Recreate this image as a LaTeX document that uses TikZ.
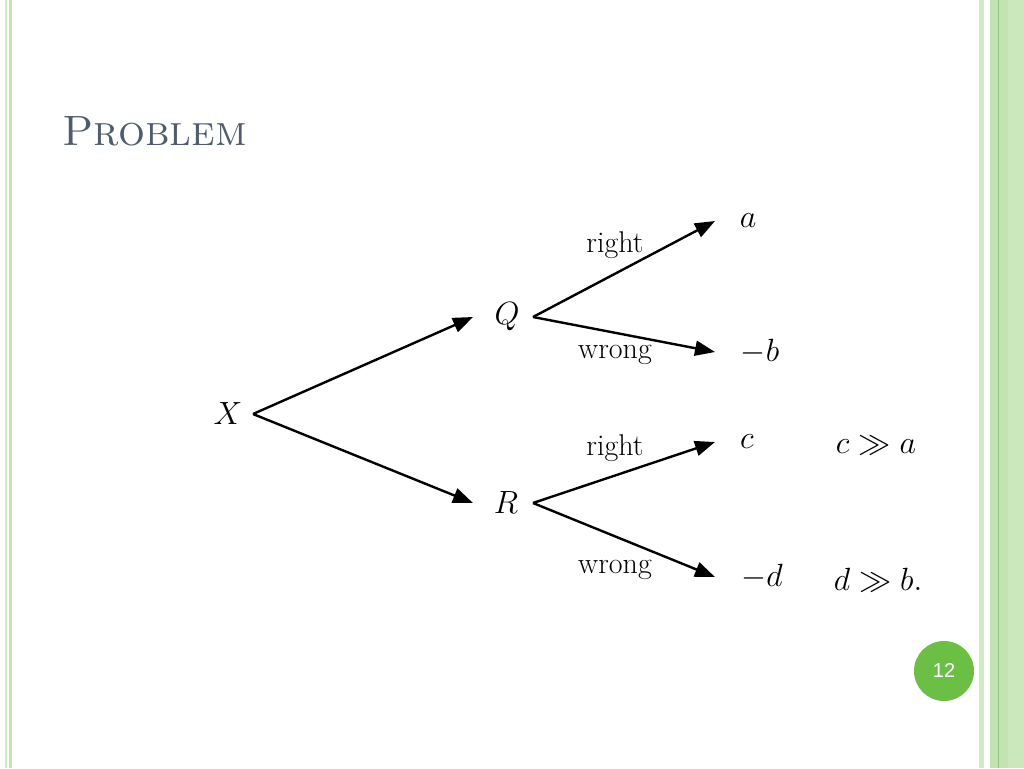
\documentclass[tikz,border=0pt]{standalone}
\usepackage{graphicx}
\usepackage{fontspec}
\usetikzlibrary{arrows.meta}
\newfontfamily\numfont{Liberation Sans}
\newcommand\mth[1]{\scalebox{1.55}{\fontsize{20}{24}\selectfont$#1$}}
\definecolor{stripeA}{HTML}{CFEBC3}
\definecolor{stripeB}{HTML}{C3E3B2}
\definecolor{stripeC}{HTML}{CBE8BD}
\definecolor{stripeLine}{HTML}{93C47D}
\definecolor{titlecol}{HTML}{4F5B6E}
\definecolor{badge}{HTML}{6CBF45}
\tikzset{
  mnode/.style={inner sep=0pt},
  lbl/.style={inner sep=0pt, anchor=base, font=\fontsize{30}{34}\selectfont},
  arr/.style={line width=2.4pt, -{Triangle[length=20pt,width=15pt]}},
}
\begin{document}
\begin{tikzpicture}[x=1pt,y=-1pt]
\useasboundingbox (0,0) rectangle (1024,768);
\fill[white] (0,0) rectangle (1024,768);
% left stripes
\fill[stripeA] (5,0) rectangle (7.2,768);
\fill[stripeB] (8.5,0) rectangle (12,768);
% right stripes
\fill[stripeA] (979,0) rectangle (983.5,768);
\fill[stripeB] (990,0) rectangle (1008,768);
\fill[stripeC] (1008,0) rectangle (1024,768);
\draw[stripeLine, line width=0.8pt] (998,0) -- (998,768);
% title
\node[anchor=base west, inner sep=0pt, text=titlecol, font=\fontsize{42.4}{46}\selectfont] (title) at (62,145) {\textsc{Problem}};
% tree nodes
\node[mnode] (X) at (228,414) {\mth{X}};
\node[mnode] (Q) at (507,317) {\mth{Q}};
\node[mnode] (R) at (506,503) {\mth{R}};
\node[mnode] (a) at (748,221) {\mth{a}};
\node[mnode] (b) at (760,352) {\mth{-b}};
\node[mnode] (c) at (747,442) {\mth{c}};
\node[mnode] (d) at (762,577) {\mth{-d}};
\node[mnode] (ca) at (876,445) {\mth{c \gg a}};
\node[mnode] (db) at (878,580) {\mth{d \gg b.}};
% connectors
\draw[arr] ([xshift=25]X.center) -- ([xshift=-34]Q.center);
\draw[arr] ([xshift=25]X.center) -- ([xshift=-33]R.center);
\draw[arr] ([xshift=26]Q.center) -- ([xshift=-33]a.center);
\draw[arr] ([xshift=26]Q.center) -- ([xshift=-45]b.center);
\draw[arr] ([xshift=27]R.center) -- ([xshift=-32]c.center);
\draw[arr] ([xshift=27]R.center) -- ([xshift=-47]d.center);
% edge labels
\node[lbl] (l1) at (615,252) {right};
\node[lbl] (l2) at (615,358) {wrong};
\node[lbl] (l3) at (615,455) {right};
\node[lbl] (l4) at (615,573) {wrong};
% page number
\node[circle, fill=badge, minimum size=60pt, inner sep=0pt, text=white, font=\numfont\fontsize{20}{22}\selectfont] (pg) at (944,671) {12};
\end{tikzpicture}
\end{document}
